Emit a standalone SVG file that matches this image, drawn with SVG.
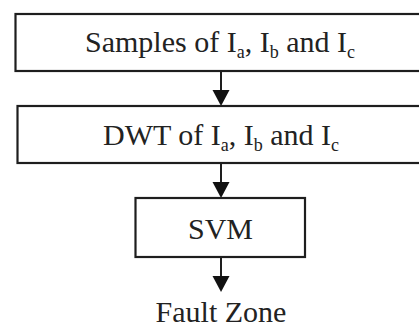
<svg xmlns="http://www.w3.org/2000/svg" width="419" height="330" viewBox="0 0 419 330">
<style>
.box{fill:#fff;stroke:#1e1e1e;stroke-width:2.2}
.t{font-family:"Liberation Serif","Times New Roman",serif;font-size:30px;fill:#222;text-anchor:middle}
.s{font-size:18px}
.ln{stroke:#1e1e1e;stroke-width:2}
.hd{fill:#111}
</style>
<rect width="419" height="330" fill="#fff"/>
<g id="connectors">
<line class="ln" x1="221" y1="71" x2="221" y2="92"/>
<polygon class="hd" points="212.5,90 229.5,90 221,106"/>
<line class="ln" x1="221" y1="163" x2="221" y2="184"/>
<polygon class="hd" points="212.5,182 229.5,182 221,198"/>
<line class="ln" x1="221" y1="257" x2="221" y2="278"/>
<polygon class="hd" points="212.5,276 229.5,276 221,292"/>
</g>
<g id="samples">
<rect class="box" x="15.5" y="14" width="412" height="57"/>
<text class="t" x="220" y="52">Samples of I<tspan class="s" dy="6">a</tspan><tspan dy="-6">, I</tspan><tspan class="s" dy="6">b</tspan><tspan dy="-6"> and I</tspan><tspan class="s" dy="6">c</tspan></text>
</g>
<g id="dwt">
<rect class="box" x="17.5" y="106" width="412" height="57"/>
<text class="t" x="221" y="145">DWT of I<tspan class="s" dy="6">a</tspan><tspan dy="-6">, I</tspan><tspan class="s" dy="6">b</tspan><tspan dy="-6"> and I</tspan><tspan class="s" dy="6">c</tspan></text>
</g>
<g id="svm">
<rect class="box" x="135.5" y="198" width="169.5" height="59"/>
<text class="t" x="220.5" y="239">SVM</text>
</g>
<g id="fault">
<text class="t" x="221" y="322">Fault Zone</text>
</g>
</svg>
